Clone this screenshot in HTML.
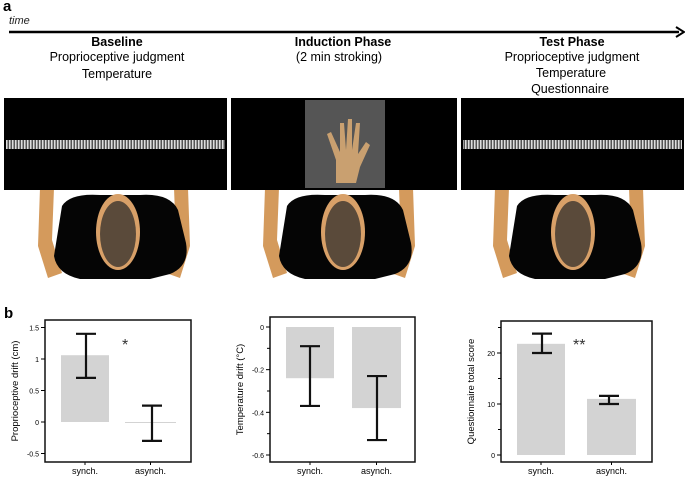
<!DOCTYPE html>
<html><head><meta charset="utf-8"><style>
body{margin:0;background:#fff;width:685px;height:478px;overflow:hidden;font-family:"Liberation Sans",sans-serif}
svg{display:block}
</style></head><body>
<svg id="fig" width="685" height="478" font-family="Liberation Sans, sans-serif">
<defs>
<pattern id="stripes" width="3" height="10" patternUnits="userSpaceOnUse"><rect width="3" height="10" fill="#555"/><rect width="1.5" height="10" fill="#ddd"/></pattern>
<g id="person">
 <path d="M40,0 L54,0 L52,52 L62,85 L48,90 L38,58 Z" fill="#d49a5c"/>
 <path d="M188,0 L174,0 L176,52 L166,85 L180,90 L190,58 Z" fill="#d49a5c"/>
 <path d="M62,18 Q70,5 100,7 L140,7 Q170,5 178,22 L186,55 Q190,78 170,86 L150,91 L80,91 Q57,86 54,68 Z" fill="#050505"/>
 <ellipse cx="118" cy="44" rx="22" ry="38" fill="#d8a068"/>
 <ellipse cx="118" cy="46" rx="18" ry="33" fill="#5a4a3a"/>
</g>
</defs>
<text x="3" y="11" font-size="15" font-weight="bold">a</text>
<text x="9" y="24" font-size="11" font-style="italic" fill="#222">time</text>
<line x1="9" y1="32" x2="679" y2="32" stroke="#000" stroke-width="2.5"/>
<path d="M676,27 L684,32 L676,37" fill="none" stroke="#000" stroke-width="2"/>
<g font-size="12.5" text-anchor="middle">
 <text x="117" y="46" font-weight="bold">Baseline</text>
 <text x="117" y="61">Proprioceptive judgment</text>
 <text x="117" y="78">Temperature</text>
 <text x="343" y="46" font-weight="bold">Induction Phase</text>
 <text x="339" y="61">(2 min stroking)</text>
 <text x="572" y="46" font-weight="bold">Test Phase</text>
 <text x="572" y="61">Proprioceptive judgment</text>
 <text x="571" y="77">Temperature</text>
 <text x="570" y="93">Questionnaire</text>
</g>
<g>
 <use href="#person" x="0" y="188"/>
 <rect x="4" y="98" width="223" height="92" fill="#000"/>
 <rect x="6" y="140" width="219" height="9" fill="url(#stripes)"/>
</g>
<g>
 <use href="#person" x="225" y="188"/>
 <rect x="231" y="98" width="226" height="92" fill="#000"/>
 <rect x="305" y="100" width="80" height="88" fill="#555"/>
 <path d="M336,183 L336,160 L327,134 L331,132 L340,152 L340,123 L344,123 L346,150 L348,119 L352,119 L352,150 L356,123 L360,123 L358,154 L366,142 L370,145 L360,167 L356,183 Z" fill="#c9a070"/>
</g>
<g>
 <use href="#person" x="455" y="188"/>
 <rect x="461" y="98" width="223" height="92" fill="#000"/>
 <rect x="463" y="140" width="219" height="9" fill="url(#stripes)"/>
</g>
<text x="4" y="318" font-size="15" font-weight="bold">b</text>
<g id="charts"></g>
</svg>
<script>
const cats = ["synch.", "asynch."];
const propVals = [1.06, -0.01], propLo = [0.7, -0.3], propHi = [1.4, 0.26];
const propTicks = [1.5, 1, 0.5, 0, -0.5];
const tempVals = [-0.24, -0.38], tempLo = [-0.37, -0.53], tempHi = [-0.09, -0.23];
const tempTicks = [0, -0.2, -0.4, -0.6];
const tempMinor = [-0.1, -0.3, -0.5];
const qVals = [21.8, 11], qLo = [20, 10], qHi = [23.8, 11.6];
const qTicks = [20, 10, 0];
const qMinor = [25, 15, 5];
const NS = "http://www.w3.org/2000/svg";
const root = document.getElementById("charts");
function mk(tag, attrs, parent){const e=document.createElementNS(NS,tag);for(const k in attrs)e.setAttribute(k,attrs[k]);(parent||root).appendChild(e);return e;}
function chart(o){
 const g = mk("g", {});
 
 
 const y = v => o.y0 + (v - o.v0) * (o.y1 - o.y0) / (o.v1 - o.v0);
 o.vals.forEach((v,i)=>{
  const bx = o.bars[i];
  const yb = y(o.base), yv = y(v);
  const r = mk("rect",{x:bx[0],y:Math.min(yb,yv),width:bx[1]-bx[0],height:Math.max(Math.abs(yv-yb),1),fill:"#d3d3d3"},g);
  
  
  const cx = o.ex[i];
  const eb = mk("path",{d:`M${cx-10},${y(o.hi[i])}H${cx+10}M${cx},${y(o.hi[i])}V${y(o.lo[i])}M${cx-10},${y(o.lo[i])}H${cx+10}`,stroke:"#111","stroke-width":2.2,fill:"none"},g);
  
  
  const t = mk("text",{x:(bx[0]+bx[1])/2,y:o.box[3]+12,"font-size":9,"text-anchor":"middle"},g);
  t.textContent = cats[i];
  
  
  mk("line",{x1:(bx[0]+bx[1])/2,x2:(bx[0]+bx[1])/2,y1:o.box[3],y2:o.box[3]+3,stroke:"#000"},g);
 });
 const b = o.box;
 const fr = mk("rect",{x:b[0],y:b[1],width:b[2]-b[0],height:b[3]-b[1],fill:"none",stroke:"#111","stroke-width":1.5},g);
 
 
 o.ticks.forEach(v=>{
  mk("line",{x1:b[0]-4,x2:b[0],y1:y(v),y2:y(v),stroke:"#000"},g);
  const t = mk("text",{x:b[0]-6,y:y(v)+3,"font-size":7,"text-anchor":"end"},g);
  t.textContent = v;
  
  
 });
 (o.minor||[]).forEach(v=>mk("line",{x1:b[0]-3,x2:b[0],y1:y(v),y2:y(v),stroke:"#000"},g));
 const cy = (b[1]+b[3])/2, lx = b[0]-27;
 const yt = mk("text",{x:lx,y:cy,"font-size":9.5,"text-anchor":"middle",transform:`rotate(-90 ${lx} ${cy})`},g);
 yt.textContent = o.title;
 
 
 if(o.star){const s=mk("text",{x:o.star[0],y:o.star[1],"font-size":16,fill:"#333"},g);s.textContent=o.star[2];
  
  }
}
chart({name:"proprioceptive-drift-chart",box:[45,320,191,462],v0:0,y0:422,v1:1.5,y1:327.5,base:0,vals:propVals,lo:propLo,hi:propHi,ticks:propTicks,minor:[],bars:[[61,109],[125,176]],ex:[86,152],title:"Proprioceptive drift (cm)",star:[122,350,"*"]});
chart({name:"temperature-drift-chart",box:[270,317,415,462],v0:0,y0:327,v1:-0.6,y1:455,base:0,vals:tempVals,lo:tempLo,hi:tempHi,ticks:tempTicks,minor:tempMinor,bars:[[286,334],[352,401]],ex:[310,377],title:"Temperature drift (°C)"});
chart({name:"questionnaire-score-chart",box:[501,321,652,462],v0:0,y0:455,v1:20,y1:353,base:0,vals:qVals,lo:qLo,hi:qHi,ticks:qTicks,minor:qMinor,bars:[[517,565],[587,636]],ex:[542,609],title:"Questionnaire total score",star:[573,350,"**"]});
</script>
</body></html>
